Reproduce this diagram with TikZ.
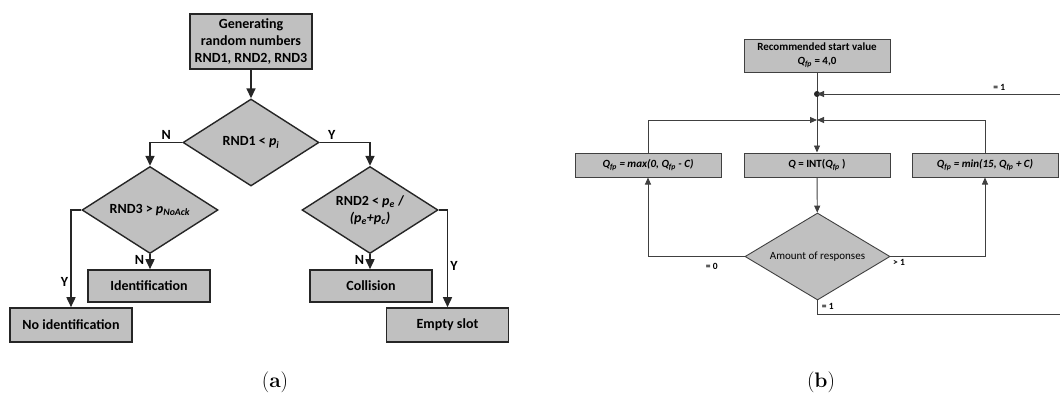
\documentclass[tikz,border=0pt]{standalone}
\usepackage{fontspec}
\newfontfamily\calfont{Carlito}
\usetikzlibrary{shapes.geometric,arrows.meta}
\definecolor{boxgray}{RGB}{192,192,192}
\newcommand{\Qfp}{\textit{Q}\textsubscript{\textit{fp}}}
\begin{document}
\begin{tikzpicture}[x=1pt,y=-1pt,
  afont/.style={font=\calfont\bfseries\fontsize{14}{17}\selectfont},
  abox/.style={afont, draw=black!85, line width=1.6pt, fill=boxgray, inner sep=0pt,
    minimum width=122pt, minimum height=33pt, align=center},
  adia/.style={afont, diamond, aspect=1.56, draw=black!85, line width=1.4pt, fill=boxgray,
    inner sep=0pt, minimum width=136pt, minimum height=87pt, align=center},
  aarr/.style={line width=1.6pt, draw=black!85, -{Triangle[length=10pt,width=9pt]}},
  alab/.style={afont, inner sep=2pt},
  bbox/.style={font=\calfont\bfseries\fontsize{11}{14}\selectfont, draw=black!75, line width=1pt,
    fill=boxgray, inner sep=0pt, minimum width=146pt, minimum height=24pt, align=center},
  bdia/.style={font=\calfont\fontsize{11}{13}\selectfont, diamond, aspect=1.67, draw=black!75,
    line width=0.9pt, fill=boxgray, inner sep=0pt, minimum width=145pt, minimum height=87pt},
  barr/.style={line width=0.9pt, draw=black!75, -{Triangle[length=7pt,width=6pt]}},
  bline/.style={line width=0.9pt, draw=black!75},
  blab/.style={font=\calfont\bfseries\fontsize{9.5}{11}\selectfont, inner sep=1pt},
  captext/.style={font=\fontsize{21}{25}\selectfont}]
\useasboundingbox (0,0) rectangle (1060,394);

% ---------------- (a) ----------------
\node[abox, minimum height=55pt] (gen) at (251,41.5) {Generating\\random numbers\\RND1, RND2, RND3};
\node[adia] (d1) at (251,142.5) {RND1 < \textit{p}\textsubscript{\textit{i}}};
\node[adia] (d2) at (150,210) {RND3 > \textit{p}\textsubscript{\textit{NoAck}}};
\node[adia] (d3) at (370,210) {RND2 < \textit{p}\textsubscript{\textit{e}} /\\\textit{(p\textsubscript{e}+p\textsubscript{c})}};
\node[abox, minimum height=32pt] (ident) at (149,286) {Identification};
\node[abox, minimum height=34pt] (noid) at (71,325) {No identification};
\node[abox, minimum height=32pt] (coll) at (371,286) {Collision};
\node[abox, minimum height=34pt] (empty) at (447.5,325) {Empty slot};

\draw[aarr] (gen) -- (d1);
\draw[aarr] (d1.west) -| node[alab, pos=0.25, above] {N} (d2.north);
\draw[aarr] (d1.east) -| node[alab, pos=0.12, above] {Y} (d3.north);
\draw[aarr] (d2.south) -- node[alab, pos=0.4, left=3pt] {N} (d2.south |- ident.north);
\draw[aarr] (d2.west) -| node[alab, pos=0.87, left] {Y} (noid.north);
\draw[aarr] (d3.south) -- node[alab, pos=0.4, left=3pt] {N} (d3.south |- coll.north);
\draw[aarr] (d3.east) -| node[alab, pos=0.79, right] {Y} (empty.north);

\node[captext] (capa) at (275,382) {(\textbf{a})};

% ---------------- (b) ----------------
\node[bbox, minimum height=33pt] (start) at (817,55.5) {Recommended start value\\\Qfp{} = 4,0};
\node[bbox] (qmax) at (648,165) {\Qfp{} \textit{= max(0, }\Qfp{} \textit{- C)}};
\node[bbox] (qmid) at (817,165) {\textit{Q} = INT(\Qfp{} )};
\node[bbox] (qmin) at (985,165) {\Qfp{} \textit{= min(15, }\Qfp{} \textit{+ C)}};
\node[bdia] (dia) at (817.5,256.5) {Amount of responses};
\coordinate (j1) at (817,94);
\coordinate (j2) at (817,120);
\coordinate (r1) at (1060,94);
\coordinate (r2) at (1060,314);

\draw[barr] (start) -- (qmid);
\fill[black!85] (j1) circle (3pt);
\draw[barr] (r1) -- node[blab, pos=0.25, above=2pt] {= 1} (j1);
\draw[barr] (qmax.north) |- (j2);
\draw[barr] (qmin.north) |- (j2);
\draw[barr] (qmid) -- (dia);
\draw[barr] (dia.west) -| node[blab, pos=0.17, below=5pt] {= 0} (qmax.south);
\draw[barr] (dia.east) -| node[blab, pos=0.045, below=1pt] {> 1} (qmin.south);
\draw[bline] (dia.south) |- node[blab, pos=0.22, right=3pt] {= 1} (r2);

\node[captext] (capb) at (821,382) {(\textbf{b})};
\end{tikzpicture}
\end{document}
